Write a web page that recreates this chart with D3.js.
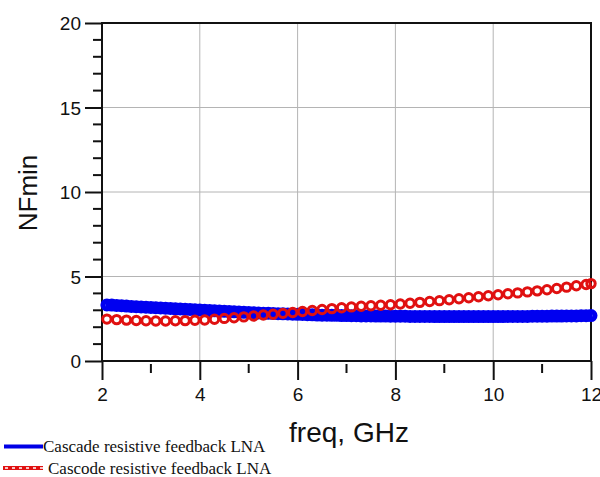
<!DOCTYPE html>
<html>
<head>
<meta charset="utf-8">
<script src="https://cdn.jsdelivr.net/npm/d3@7"></script>
<style>
  body { margin: 0; background: #fff; }
  svg { display: block; }
</style>
</head>
<body>
<div id="chart"></div>
<script>
// frequency grid (GHz) and NFmin values
const freqBlue = [
  2.1, 2.2, 2.3, 2.4, 2.5, 2.6, 2.7, 2.8, 2.9,
  3.0, 3.1, 3.2, 3.3, 3.4, 3.5, 3.6, 3.7, 3.8, 3.9,
  4.0, 4.1, 4.2, 4.3, 4.4, 4.5, 4.6, 4.7, 4.8, 4.9,
  5.0, 5.1, 5.2, 5.3, 5.4, 5.5, 5.6, 5.7, 5.8, 5.9,
  6.0, 6.1, 6.2, 6.3, 6.4, 6.5, 6.6, 6.7, 6.8, 6.9,
  7.0, 7.1, 7.2, 7.3, 7.4, 7.5, 7.6, 7.7, 7.8, 7.9,
  8.0, 8.1, 8.2, 8.3, 8.4, 8.5, 8.6, 8.7, 8.8, 8.9,
  9.0, 9.1, 9.2, 9.3, 9.4, 9.5, 9.6, 9.7, 9.8, 9.9,
  10.0, 10.1, 10.2, 10.3, 10.4, 10.5, 10.6, 10.7, 10.8, 10.9,
  11.0, 11.1, 11.2, 11.3, 11.4, 11.5, 11.6, 11.7, 11.8, 11.9,
  12.0
];
const nfBlue = [
  3.32, 3.31, 3.29, 3.27, 3.25, 3.23, 3.21, 3.20, 3.18,
  3.17, 3.15, 3.14, 3.12, 3.11, 3.09, 3.08, 3.06, 3.05, 3.03,
  3.02, 3.00, 2.99, 2.97, 2.96, 2.94, 2.93, 2.91, 2.90, 2.88,
  2.87, 2.86, 2.84, 2.83, 2.82, 2.81, 2.80, 2.79, 2.78, 2.77,
  2.76, 2.75, 2.74, 2.73, 2.72, 2.71, 2.71, 2.70, 2.70, 2.69,
  2.69, 2.68, 2.68, 2.67, 2.67, 2.67, 2.66, 2.66, 2.66, 2.65,
  2.65, 2.65, 2.65, 2.64, 2.64, 2.64, 2.64, 2.64, 2.63, 2.63,
  2.63, 2.63, 2.63, 2.63, 2.63, 2.63, 2.63, 2.63, 2.63, 2.63,
  2.63, 2.63, 2.63, 2.64, 2.64, 2.64, 2.64, 2.64, 2.65, 2.65,
  2.65, 2.65, 2.66, 2.66, 2.66, 2.67, 2.67, 2.67, 2.68, 2.68,
  2.69
];

const freqRed = [
  2.1, 2.3, 2.5, 2.7, 2.9, 3.1, 3.3, 3.5, 3.7, 3.9,
  4.1, 4.3, 4.5, 4.7, 4.9, 5.1, 5.3, 5.5, 5.7, 5.9,
  6.1, 6.3, 6.5, 6.7, 6.9, 7.1, 7.3, 7.5, 7.7, 7.9,
  8.1, 8.3, 8.5, 8.7, 8.9, 9.1, 9.3, 9.5, 9.7, 9.9,
  10.1, 10.3, 10.5, 10.7, 10.9, 11.1, 11.3, 11.5, 11.7, 11.9,
  12.0
];
const nfRed = [
  2.48, 2.45, 2.42, 2.40, 2.38, 2.37, 2.37, 2.38, 2.39, 2.41,
  2.43, 2.47, 2.52, 2.56, 2.61, 2.66, 2.72, 2.77, 2.82, 2.87,
  2.93, 2.99, 3.05, 3.10, 3.15, 3.20, 3.24, 3.27, 3.30, 3.33,
  3.37, 3.42, 3.47, 3.52, 3.57, 3.62, 3.68, 3.74, 3.80, 3.86,
  3.92, 3.98, 4.03, 4.09, 4.15, 4.22, 4.29, 4.37, 4.45, 4.53,
  4.58
];

const xTicks = [2, 4, 6, 8, 10, 12];
const xMinor = [3, 5, 7, 9, 11];
const yTicks = [0, 5, 10, 15, 20];
const yMinor = [1, 2, 3, 4, 6, 7, 8, 9, 11, 12, 13, 14, 16, 17, 18, 19];

const seriesNames = ["Cascade resistive feedback LNA", "Cascode resistive feedback LNA"];
const xTitle = "freq, GHz";
const yTitle = "NFmin";

const width = 600, height = 477;
const margin = { top: 23, right: 9, bottom: 116, left: 102 };
const innerW = width - margin.left - margin.right;
const innerH = height - margin.top - margin.bottom;

const x = d3.scaleLinear().domain([2, 12]).range([0, innerW]);
const y = d3.scaleLinear().domain([0, 20]).range([innerH, 0]);

const svg = d3.select("#chart").append("svg")
  .attr("width", width)
  .attr("height", height);

const g = svg.append("g").attr("transform", `translate(${margin.left},${margin.top})`);

// grid
g.append("g").selectAll("line").data(xTicks.slice(1, -1)).enter().append("line")
  .attr("x1", d => x(d)).attr("x2", d => x(d))
  .attr("y1", 0).attr("y2", innerH)
  .attr("stroke", "#b4b4b4").attr("stroke-width", 1);
g.append("g").selectAll("line").data(yTicks.slice(1, -1)).enter().append("line")
  .attr("y1", d => y(d)).attr("y2", d => y(d))
  .attr("x1", 0).attr("x2", innerW)
  .attr("stroke", "#b4b4b4").attr("stroke-width", 1);

// axes
const xAxis = d3.axisBottom(x).tickValues(xTicks).tickSize(19).tickPadding(8).tickFormat(d3.format("d"));
const yAxis = d3.axisLeft(y).tickValues(yTicks).tickSize(17).tickPadding(4).tickFormat(d3.format("d"));

const gx = g.append("g").attr("transform", `translate(0,${innerH})`).call(xAxis);
const gy = g.append("g").call(yAxis);

[gx, gy].forEach(a => {
  a.select(".domain").remove();
  a.selectAll(".tick line").attr("stroke", "#111").attr("stroke-width", 2);
  a.selectAll(".tick text")
    .attr("fill", "#111")
    .style("font-family", "Arial, 'Liberation Sans', sans-serif")
    .style("font-size", "19px");
});
gy.selectAll(".tick text").attr("dy", "0.36em");

// minor ticks
g.append("g").selectAll("line").data(xMinor).enter().append("line")
  .attr("x1", d => x(d)).attr("x2", d => x(d))
  .attr("y1", innerH + 3).attr("y2", innerH + 12)
  .attr("stroke", "#111").attr("stroke-width", 2);
g.append("g").selectAll("line").data(yMinor).enter().append("line")
  .attr("y1", d => y(d)).attr("y2", d => y(d))
  .attr("x1", -9).attr("x2", 0)
  .attr("stroke", "#111").attr("stroke-width", 2);

// frame
g.append("rect")
  .attr("width", innerW).attr("height", innerH)
  .attr("fill", "none").attr("stroke", "#111").attr("stroke-width", 2);

// blue series (dense circles forming a band)
g.append("g").selectAll("circle")
  .data(freqBlue.map((f, i) => [f, nfBlue[i]]))
  .enter().append("circle")
  .attr("cx", d => x(d[0])).attr("cy", d => y(d[1]))
  .attr("r", 4)
  .attr("fill", "none")
  .attr("stroke", "#0000f0")
  .attr("stroke-width", 5);

// red series (open circles)
g.append("g").selectAll("circle")
  .data(freqRed.map((f, i) => [f, nfRed[i]]))
  .enter().append("circle")
  .attr("cx", d => x(d[0])).attr("cy", d => y(d[1]))
  .attr("r", 4.2)
  .attr("fill", "none")
  .attr("stroke", "#e01010")
  .attr("stroke-width", 3);

// axis titles
svg.append("text")
  .attr("x", 349).attr("y", 442)
  .attr("text-anchor", "middle")
  .style("font-family", "Arial, 'Liberation Sans', sans-serif")
  .style("font-size", "28px")
  .attr("fill", "#111")
  .text(xTitle);

svg.append("text")
  .attr("transform", "translate(37,193) rotate(-90)")
  .attr("text-anchor", "middle")
  .style("font-family", "Arial, 'Liberation Sans', sans-serif")
  .style("font-size", "26px")
  .attr("fill", "#111")
  .text(yTitle);

// legend
const legend = svg.append("g");
legend.append("line")
  .attr("x1", 4).attr("x2", 43).attr("y1", 446.5).attr("y2", 446.5)
  .attr("stroke", "#0000e6").attr("stroke-width", 4);
legend.append("line")
  .attr("x1", 3).attr("x2", 43).attr("y1", 468).attr("y2", 468)
  .attr("stroke", "#e01010").attr("stroke-width", 4);
legend.append("line")
  .attr("x1", 5).attr("x2", 43).attr("y1", 468).attr("y2", 468)
  .attr("stroke", "#fff").attr("stroke-width", 1.3)
  .attr("stroke-dasharray", "3,4");

legend.selectAll("text").data(seriesNames).enter().append("text")
  .attr("x", (d, i) => i === 0 ? 43 : 48)
  .attr("y", (d, i) => i === 0 ? 452 : 474)
  .style("font-family", "'Times New Roman', 'Liberation Serif', serif")
  .style("font-size", "17px")
  .attr("fill", "#111")
  .text(d => d);
</script>
</body>
</html>
